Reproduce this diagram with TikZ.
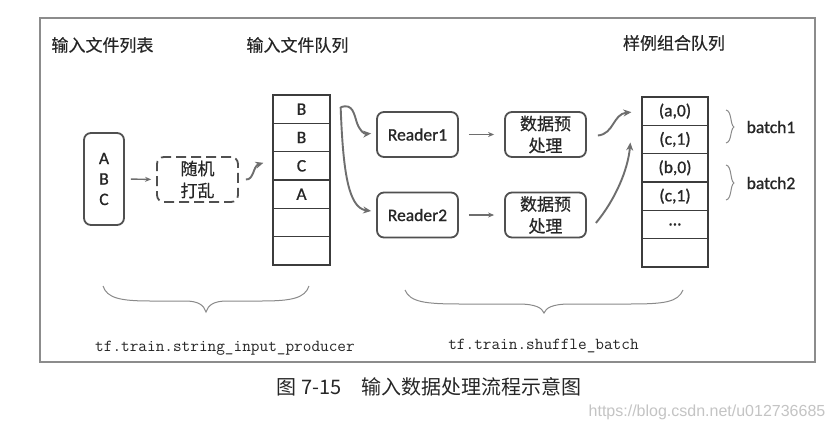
\documentclass[tikz,border=0pt]{standalone}
\usepackage{fontspec}
\setmainfont[FakeBold=0.9]{Carlito}
\newfontfamily\cjk[FakeBold=0.5]{Noto Sans CJK SC}
\newfontfamily\cjkcap{Noto Sans CJK SC}
\newfontfamily\wmfont{Liberation Sans}
\usetikzlibrary{arrows.meta,calc}
\definecolor{boxc}{HTML}{505050}
\definecolor{qc}{HTML}{3C3C3C}
\definecolor{arrc}{HTML}{6E6E6E}
\definecolor{framec}{HTML}{8C8C8C}
\definecolor{txt}{HTML}{262626}
\definecolor{bracec}{HTML}{8A8A8A}
\definecolor{wmc}{HTML}{C4C4C4}
\begin{document}
\begin{tikzpicture}[x=1pt,y=-1pt,
  rbox/.style={draw=boxc, line width=1.8pt, rounded corners=7pt, minimum width=81pt,
    minimum height=45pt, inner sep=0pt, text=txt, align=center,
    font=\fontsize{17.5}{21}\selectfont},
  cjkbox/.style={rbox, font=\cjk\fontsize{17}{22}\selectfont},
  cell/.style={draw=qc, line width=1.3pt, minimum height=28.33pt, inner sep=0pt,
    text=txt, font=\fontsize{17.5}{20}\selectfont},
  title/.style={text=txt, font=\cjk\fontsize{17}{20}\selectfont},
  carr/.style={draw=arrc, line width=1.9pt, -{Stealth[length=8pt,width=7pt]}},
  sarr/.style={draw=arrc, line width=1.4pt, -{Stealth[length=6pt,width=5pt]}},
  bracel/.style={draw=bracec, line width=1pt},
  code/.style={text=txt, font=\ttfamily\fontsize{16.8}{20}\selectfont}]
\useasboundingbox (0,0) rectangle (831,439);
\fill[white] (0,0) rectangle (831,439);

% frame
\draw[framec, line width=1.2pt] (40,18) rectangle (815,362);

% titles
\node[title] (t1) at (102.5,45) {输入文件列表};
\node[title] (t2) at (297.5,45) {输入文件队列};
\node[title] (t3) at (674,43) {样例组合队列};

% boxes
\node[rbox, minimum width=40pt, minimum height=92pt, font=\fontsize{17.5}{20.5}\selectfont] (abc) at (104,179) {A\\B\\C};
\node[cjkbox, dash pattern=on 10pt off 5pt] (shuf) at (197.5,179.5) {随机\\打乱};
\node[rbox] (r1) at (417.5,134.5) {Reader1};
\node[rbox] (r2) at (417.5,215) {Reader2};
\node[cjkbox] (d1) at (545.5,134.5) {数据预\\处理};
\node[cjkbox] (d2) at (545.5,215) {数据预\\处理};

% queue 1
\foreach \lbl [count=\i] in {B,B,C,A,{},{}}
  \node[cell, minimum width=57pt] (qa\i) at (301.5,{95+28.33*(\i-0.5)}) {\lbl};
% queue 2
\foreach \lbl [count=\i] in {{(a,0)},{(c,1)},{(b,0)},{(c,1)},{\ldots},{}}
  \node[cell, minimum width=66pt] (qb\i) at (675,{97+28.33*(\i-0.5)}) {\lbl};

% straight arrows
\draw[sarr, shorten <=6pt, shorten >=5pt] (abc.east) -- (shuf.west);
\draw[sarr, shorten <=10pt, shorten >=10pt] (r1.east) -- (d1.west);
\draw[sarr, shorten <=10pt, shorten >=10pt] (r2.east) -- (d2.west);

% curved arrows
\draw[carr] ($(shuf.east)+(7,0)$) .. controls (254,180) and (253,166) .. ($(qa3.west)+(-9,-3)$);
\draw[carr] ($(qa1.east)+(10,-2)$) .. controls (353,103) and (354,114) .. (357,123)
   .. controls (360,131) and (364,134) .. ($(r1.west)+(-5,-1)$);
\draw[carr] ($(qa1.east)+(10,-2)$) .. controls (343,170) and (348,208) .. ($(r2.west)+(-5,-4)$);
\draw[carr] ($(d1.east)+(11,1)$) .. controls (614,134) and (613,114) .. ($(qb1.west)+(-10,1)$);
\draw[carr] ($(d2.east)+(9,8)$) .. controls (615,200) and (628,170) .. ($(qb2.west)+(-11,3)$);

% batch braces
\draw[bracel] (726,110) .. controls (732,111) and (730,125) .. (734,127)
   .. controls (730,129) and (732,142) .. (726,143);
\draw[bracel] (726,165) .. controls (732,166) and (730,181) .. (734,183)
   .. controls (730,185) and (732,199) .. (726,200);
\node[text=txt, font=\fontsize{17.5}{20}\selectfont] (b1) at (771,127) {batch1};
\node[text=txt, font=\fontsize{17.5}{20}\selectfont] (b2) at (771,183) {batch2};

% bottom braces
\draw[bracel] (103,286) .. controls (107,298) and (120,301) .. (150,301) -- (185,301)
   .. controls (198,301) and (204,305) .. (206,312)
   .. controls (208,305) and (214,301) .. (227,301) -- (262,301)
   .. controls (292,301) and (305,298) .. (309,286);
\draw[bracel] (405,290) .. controls (410,302) and (425,304) .. (460,304) -- (518,304)
   .. controls (536,304) and (542,308) .. (544,313)
   .. controls (546,308) and (552,304) .. (570,304) -- (630,304)
   .. controls (665,304) and (678,302) .. (683,290);
\node[code] (c1) at (225,348) {tf.train.string\_input\_producer};
\node[code] (c2) at (543.5,346) {tf.train.shuffle\_batch};

% caption and watermark
\node[text=txt, font=\cjkcap\fontsize{20}{24}\selectfont] (cap) at (429,387) {图 7-15\quad 输入数据处理流程示意图};
\node[text=wmc, font=\wmfont\fontsize{16}{18}\selectfont] (wm) at (707,412) {https://blog.csdn.net/u012736685};
\end{tikzpicture}
\end{document}
